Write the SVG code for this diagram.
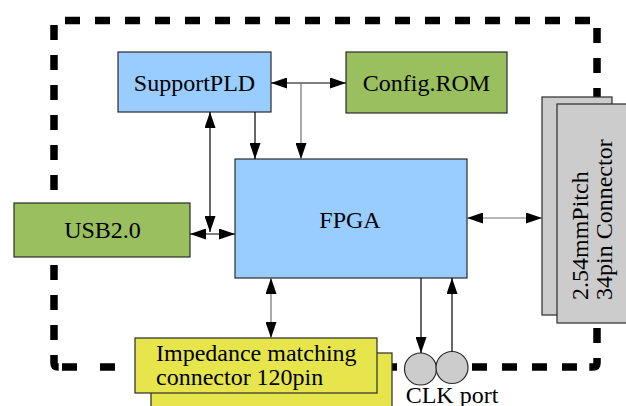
<svg xmlns="http://www.w3.org/2000/svg" width="626" height="406" viewBox="0 0 626 406">
  <style>
    .box { stroke: #2a2a2a; stroke-width: 1.2; }
    .blue { fill: #99ccff; }
    .green { fill: #99bf5f; }
    .yellow { fill: #e6e64c; }
    .grey { fill: #cccccc; }
    .label { font-family: "Liberation Serif", "Times New Roman", serif; font-size: 24px; fill: #000; }
    .link { fill: none; stroke: #000; stroke-width: 1.2; }
    .link.soft { stroke: #707070; }
    .outline { fill: none; stroke: #000; stroke-width: 7.5; stroke-dasharray: 15 15; }
  </style>
  <defs>
    <marker id="arrow" viewBox="0 0 16 11" refX="16" refY="5.5" markerWidth="16" markerHeight="11" markerUnits="userSpaceOnUse" orient="auto-start-reverse">
      <path d="M0,0 L16,5.5 L0,11 z" fill="#000"/>
    </marker>
  </defs>

  <!-- board outline, dashed -->
  <g id="board">
    <path class="outline" d="M65,20.5 H590"/>
    <path class="outline" d="M597,28 V363 Q597,367 593,367 H588"/>
    <path class="outline" d="M577,367 H130"/>
    <path class="outline" d="M115,367 H100 M77,367 H62"/>
    <path class="outline" d="M54,25 V363 Q54,367 58,367 H59"/>
  </g>

  <g id="supportpld">
    <rect class="box blue" x="118" y="52" width="153" height="60"/>
    <text class="label" x="194.5" y="91" text-anchor="middle">SupportPLD</text>
  </g>

  <g id="configrom">
    <rect class="box green" x="346" y="52" width="161" height="61"/>
    <text class="label" x="426.5" y="91" text-anchor="middle">Config.ROM</text>
  </g>

  <g id="fpga">
    <rect class="box blue" x="235" y="159" width="232" height="119"/>
    <text class="label" x="350" y="228" text-anchor="middle" font-size="26">FPGA</text>
  </g>

  <g id="usb">
    <rect class="box green" x="14" y="203" width="176" height="54"/>
    <text class="label" x="102.5" y="238" text-anchor="middle">USB2.0</text>
  </g>

  <g id="pin-connector">
    <rect class="box grey" x="542" y="97" width="70" height="218"/>
    <rect class="box grey" x="557" y="104" width="70" height="219"/>
    <text class="label" transform="translate(588,300) rotate(-90)">2.54mmPitch</text>
    <text class="label" transform="translate(612,300) rotate(-90)">34pin Connector</text>
  </g>

  <g id="impedance-connector">
    <rect class="box yellow" x="151" y="353" width="241" height="60"/>
    <rect class="box yellow" x="135" y="338" width="242" height="55"/>
    <text class="label" x="156" y="361">Impedance matching</text>
    <text class="label" x="156" y="385">connector 120pin</text>
  </g>

  <g id="clk-port">
    <circle class="box grey" cx="420.5" cy="369" r="16"/>
    <circle class="box grey" cx="452" cy="367.5" r="16"/>
    <text class="label" x="452" y="403" text-anchor="middle">CLK port</text>
  </g>

  <g id="connectors">
    <line class="link" x1="271" y1="83" x2="346" y2="83" marker-start="url(#arrow)" marker-end="url(#arrow)"/>
    <line class="link soft" x1="301" y1="83" x2="301" y2="159" marker-end="url(#arrow)"/>
    <line class="link" x1="255" y1="112" x2="255" y2="159" marker-end="url(#arrow)"/>
    <line class="link" x1="210" y1="112" x2="210" y2="232" marker-start="url(#arrow)" marker-end="url(#arrow)"/>
    <line class="link" x1="190" y1="234" x2="235" y2="234" marker-start="url(#arrow)" marker-end="url(#arrow)"/>
    <line class="link soft" x1="271" y1="278" x2="271" y2="338" marker-start="url(#arrow)" marker-end="url(#arrow)"/>
    <line class="link soft" x1="467" y1="218" x2="542" y2="218" marker-start="url(#arrow)" marker-end="url(#arrow)"/>
    <line class="link" x1="421" y1="278" x2="421" y2="353" marker-end="url(#arrow)"/>
    <line class="link" x1="452" y1="351.5" x2="452" y2="278" marker-end="url(#arrow)"/>
  </g>
</svg>
